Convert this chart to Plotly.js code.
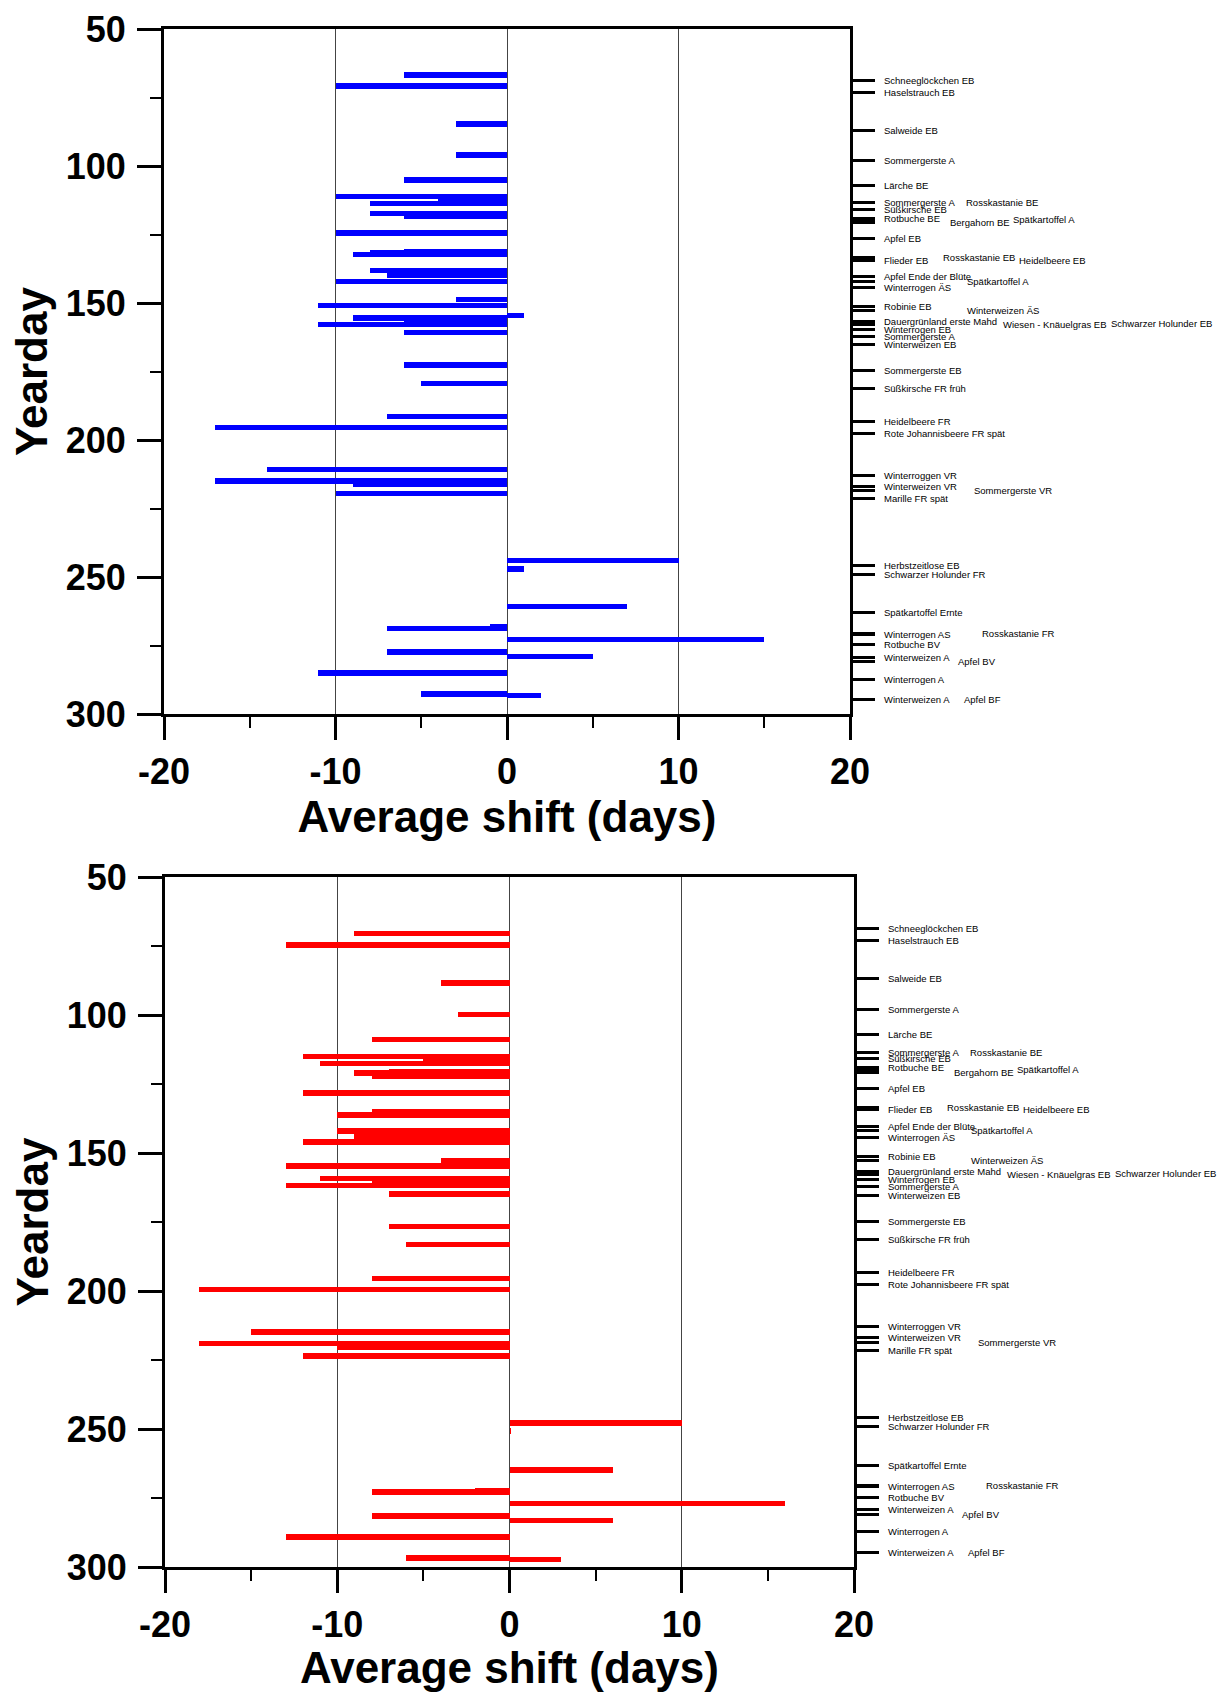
<!DOCTYPE html>
<html>
<head>
<meta charset="utf-8">
<script src="https://cdn.plot.ly/plotly-3.0.1.min.js"></script>
<style>html,body{margin:0;padding:0;overflow:hidden;background:#fff}#chart{width:1219px;height:1692px}</style>
</head>
<body>
<div id="chart"></div>
<script>
// ---- data ----
const topBarDay = [66.8,70.8,84.6,96.0,105.1,111.1,112.5,113.6,117.3,118.4,124.4,131.2,131.8,132.3,138.1,139.8,142.1,148.8,150.9,154.5,155.4,156.6,157.8,160.8,172.7,179.3,191.5,195.4,210.8,214.9,216.3,219.5,243.9,247.0,260.7,268.0,268.7,272.9,277.4,279.1,285.1,292.7,293.2];
const topShift  = [-6,-10,-3,-3,-6,-10,-4,-8,-8,-6,-10,-6,-8,-9,-8,-7,-10,-3,-11,1,-9,-6,-11,-6,-6,-5,-7,-17,-14,-17,-9,-10,10,1,7,-1,-7,15,-7,5,-11,-5,2];

const botBarDay = [70.5,74.6,88.4,99.9,108.9,115.0,116.2,117.6,120.4,121.0,122.2,128.2,134.9,136.2,142.0,143.8,146.0,152.8,154.8,159.2,160.3,161.7,164.8,176.6,183.1,195.4,199.5,214.8,219.0,220.3,223.5,247.8,250.7,264.9,272.2,272.9,277.0,281.5,283.2,289.2,296.7,297.3];
const botShift  = [-9,-13,-4,-3,-8,-12,-5,-11,-7,-9,-8,-12,-8,-10,-10,-9,-12,-4,-13,-11,-8,-13,-7,-7,-6,-8,-18,-15,-18,-10,-12,10,0.1,6,-2,-8,16,-8,6,-13,-6,3];

const labelNames = ["Schneeglöckchen EB","Haselstrauch EB","Salweide EB","Sommergerste A","Lärche BE","Sommergerste A","Rosskastanie BE","Süßkirsche EB","Rotbuche BE","Bergahorn BE","Spätkartoffel A","Apfel EB","Flieder EB","Rosskastanie EB","Heidelbeere EB","Apfel Ende der Blüte","Spätkartoffel A","Winterrogen ÄS","Robinie EB","Winterweizen ÄS","Dauergrünland erste Mahd","Wiesen - Knäuelgras EB","Schwarzer Holunder EB","Winterrogen EB","Sommergerste A","Winterweizen EB","Sommergerste EB","Süßkirsche FR früh","Heidelbeere FR","Rote Johannisbeere FR spät","Winterroggen VR","Winterweizen VR","Sommergerste VR","Marille FR spät","Herbstzeitlose EB","Schwarzer Holunder FR","Spätkartoffel Ernte","Winterrogen AS","Rosskastanie FR","Rotbuche BV","Winterweizen A","Apfel BV","Winterrogen A","Winterweizen A","Apfel BF"];
const labelDays  = [68.8,73.1,86.9,98.0,107.2,113.5,113.5,115.7,119.1,120.8,119.6,126.6,134.4,133.5,134.4,140.4,142.0,144.3,151.2,152.6,156.7,157.8,157.4,159.6,162.3,165.3,174.8,181.2,193.4,197.5,213.0,216.9,218.5,221.5,245.8,249.1,263.1,270.9,270.6,274.8,279.3,281.0,287.3,294.6,294.8];

const xTickVals = [-20,-10,0,10,20];
const yTickVals = [50,100,150,200,250,300];

// ---- layout-only helpers (pixel offsets of label columns from the right axis) ----
const labelOffsetPx = [34,34,34,34,34,34,116,34,34,100,163,34,34,93,169,34,117,34,34,117,34,153,261,34,34,34,34,34,34,34,34,34,124,34,34,34,34,34,132,34,34,108,34,34,114];

const FONT = "Liberation Sans, Arial, Helvetica, sans-serif";

function xAxis(domain, anchor) {
  return {
    domain: domain, anchor: anchor, range: [-20, 20],
    tickmode: 'array', tickvals: xTickVals, ticktext: xTickVals.map(String),
    ticks: 'outside', ticklen: 23, tickwidth: 3, tickcolor: '#000',
    minor: {tickmode: 'array', tickvals: [-15,-5,5,15], ticks: 'outside', ticklen: 11, tickwidth: 2, tickcolor: '#000', showgrid: false},
    showline: true, linewidth: 3, linecolor: '#000', mirror: true,
    showgrid: true, gridcolor: '#444', gridwidth: 1, zeroline: false,
    tickfont: {family: FONT, size: 36, color: '#000', weight: 700},
    ticklabelstandoff: 1,
    title: {text: 'Average shift (days)', font: {family: FONT, size: 44, color: '#000', weight: 700}, standoff: 5},
    fixedrange: true
  };
}
function yAxis(domain, anchor) {
  return {
    domain: domain, anchor: anchor, range: [300, 50],
    tickmode: 'array', tickvals: yTickVals, ticktext: yTickVals.map(String),
    ticks: 'outside', ticklen: 24, tickwidth: 3, tickcolor: '#000',
    minor: {tickmode: 'array', tickvals: [75,125,175,225,275], ticks: 'outside', ticklen: 11, tickwidth: 2, tickcolor: '#000', showgrid: false},
    showline: true, linewidth: 3, linecolor: '#000', mirror: true,
    showgrid: false, zeroline: false,
    tickfont: {family: FONT, size: 36, color: '#000', weight: 700},
    ticklabelstandoff: 4,
    title: {text: 'Yearday', font: {family: FONT, size: 44, color: '#000', weight: 700}, standoff: 5},
    fixedrange: true
  };
}
function labelAxis(overlay, anchor) {
  return {
    overlaying: overlay, side: 'right', anchor: anchor, range: [300, 50],
    tickmode: 'array', tickvals: labelDays, showticklabels: false,
    ticks: 'outside', ticklen: 24, tickwidth: 3, tickcolor: '#000',
    showline: false, showgrid: false, zeroline: false, fixedrange: true
  };
}

const traces = [
  {type: 'bar', orientation: 'h', x: topShift, y: topBarDay, width: 2.0, base: 0,
   marker: {color: '#0000FF', line: {width: 0}}, xaxis: 'x', yaxis: 'y', hoverinfo: 'x+y', showlegend: false},
  {type: 'bar', orientation: 'h', x: botShift, y: botBarDay, width: 2.0, base: 0,
   marker: {color: '#FF0000', line: {width: 0}}, xaxis: 'x2', yaxis: 'y2', hoverinfo: 'x+y', showlegend: false},
  {type: 'scatter', mode: 'markers', x: labelDays.map(() => 20), y: labelDays, text: labelNames,
   marker: {opacity: 0, size: 1}, xaxis: 'x', yaxis: 'y3', hoverinfo: 'skip', showlegend: false},
  {type: 'scatter', mode: 'markers', x: labelDays.map(() => 20), y: labelDays, text: labelNames,
   marker: {opacity: 0, size: 1}, xaxis: 'x2', yaxis: 'y4', hoverinfo: 'skip', showlegend: false}
];

const annotations = [];
[['x', 'y'], ['x2', 'y2']].forEach(([xa, ya]) => {
  labelNames.forEach((name, i) => {
    annotations.push({
      text: name, xref: xa + ' domain', yref: ya, x: 1, y: labelDays[i],
      xanchor: 'left', yanchor: 'middle', xshift: labelOffsetPx[i] - 2,
      showarrow: false, font: {family: FONT, size: 9.5, color: '#000'}
    });
  });
});

const layout = {
  width: 1219, height: 1692,
  margin: {l: 164, r: 365, t: 29, b: 125, pad: 0},
  paper_bgcolor: '#fff', plot_bgcolor: '#fff',
  barmode: 'overlay', bargap: 0,
  showlegend: false,
  xaxis: xAxis([0, 686/690], 'y'),
  yaxis: yAxis([1 - 685/1538, 1], 'x'),
  xaxis2: xAxis([1/690, 1], 'y2'),
  yaxis2: yAxis([0, 690/1538], 'x2'),
  yaxis3: labelAxis('y', 'x'),
  yaxis4: labelAxis('y2', 'x2'),
  annotations: annotations
};

Plotly.newPlot('chart', traces, layout, {staticPlot: true, displayModeBar: false});
</script>
</body>
</html>
